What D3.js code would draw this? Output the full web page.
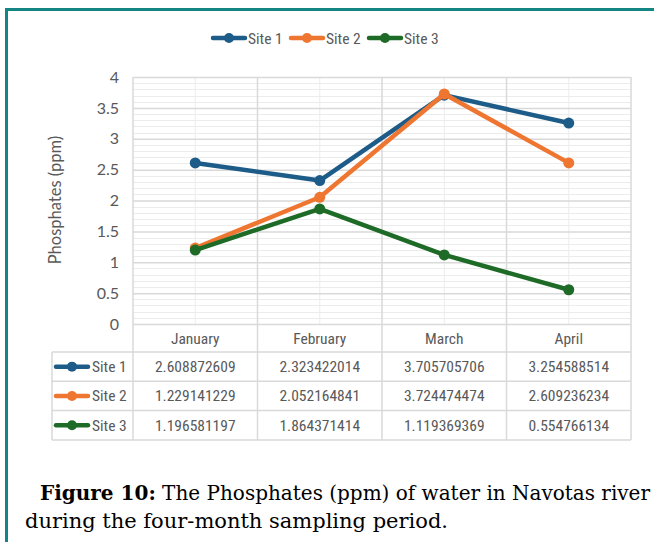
<!DOCTYPE html>
<html>
<head>
<meta charset="utf-8">
<script src="https://cdn.jsdelivr.net/npm/d3@7"></script>
<style>
  body { margin: 0; background: #fff; }
  svg { display: block; }
  .narrow { font-family: "Liberation Sans Narrow", "Roboto Condensed", Roboto, sans-serif; }
</style>
</head>
<body>
<div id="chart"></div>
<script>
// data
var months = ["January", "February", "March", "April"];
var siteNames = ["Site 1", "Site 2", "Site 3"];
var site1 = [2.608872609, 2.323422014, 3.705705706, 3.254588514];
var site2 = [1.229141229, 2.052164841, 3.724474474, 2.609236234];
var site3 = [1.196581197, 1.864371414, 1.119369369, 0.554766134];
var siteColors = ["#1d5c88", "#ee7631", "#1e6b27"];
var yTicks = [0, 0.5, 1, 1.5, 2, 2.5, 3, 3.5, 4];

var series = [site1, site2, site3].map(function (vals, i) {
    return { name: siteNames[i], color: siteColors[i], values: vals };
});

var W = 654, H = 542;
var plot = { left: 133, right: 631, top: 77, bottom: 324 };
var table = { left: 52, top: 352, rowH: 29.3 };

var svg = d3.select("#chart").append("svg")
    .attr("width", W)
    .attr("height", H);

svg.append("rect").attr("width", W).attr("height", H).attr("fill", "#fff");

// teal frame around the figure
svg.append("rect")
    .attr("x", 6.5).attr("y", 9.5)
    .attr("width", W + 20).attr("height", H + 20)
    .attr("fill", "none")
    .attr("stroke", "#138583")
    .attr("stroke-width", 3);

var x = d3.scaleBand().domain(months).range([plot.left, plot.right]);
var y = d3.scaleLinear().domain([0, 4]).range([plot.bottom, plot.top]);

// minor gridlines every 0.1
var minor = d3.range(0, 40).map(function (d) { return d / 10; })
    .filter(function (d) { return Math.round(d * 10) % 5 != 0; });
svg.append("g").selectAll("line").data(minor).enter().append("line")
    .attr("x1", plot.left).attr("x2", plot.right)
    .attr("y1", function (d) { return Math.round(y(d)) + 0.5; })
    .attr("y2", function (d) { return Math.round(y(d)) + 0.5; })
    .attr("stroke", "#ececec").attr("stroke-width", 1);

// vertical lines through the category centres
svg.append("g").selectAll("line").data(months).enter().append("line")
    .attr("x1", function (d) { return x(d) + x.bandwidth() / 2; })
    .attr("x2", function (d) { return x(d) + x.bandwidth() / 2; })
    .attr("y1", plot.top).attr("y2", plot.bottom)
    .attr("stroke", "#ececec").attr("stroke-width", 1);

// major gridlines + y labels
var yAxis = svg.append("g")
    .attr("transform", "translate(" + plot.left + ",0)")
    .call(d3.axisLeft(y).tickValues(yTicks).tickSize(-(plot.right - plot.left)).tickPadding(14)
        .tickFormat(function (d) { return d; }));
yAxis.select(".domain").remove();
yAxis.selectAll(".tick line").attr("stroke", "#d9d9d9").attr("stroke-width", 1.5);
yAxis.selectAll(".tick text")
    .attr("fill", "#595959")
    .style("font-family", "Lato, sans-serif")
    .style("font-size", "16px");

// category borders, running down through the table
var tableBottom = table.top + table.rowH * 3;
var edges = months.map(function (d) { return x(d); }).concat([plot.right]);
svg.append("g").selectAll("line").data(edges).enter().append("line")
    .attr("x1", function (d) { return d; }).attr("x2", function (d) { return d; })
    .attr("y1", plot.top).attr("y2", tableBottom)
    .attr("stroke", "#d9d9d9").attr("stroke-width", 1.5);

// table horizontal lines
var rowLines = d3.range(0, 4).map(function (i) { return table.top + i * table.rowH; });
svg.append("g").selectAll("line").data(rowLines).enter().append("line")
    .attr("x1", table.left).attr("x2", plot.right)
    .attr("y1", function (d) { return d; }).attr("y2", function (d) { return d; })
    .attr("stroke", "#d9d9d9").attr("stroke-width", 1.5);
svg.append("line")
    .attr("x1", table.left).attr("x2", table.left)
    .attr("y1", table.top).attr("y2", tableBottom)
    .attr("stroke", "#d9d9d9").attr("stroke-width", 1.5);

// month labels
svg.append("g").selectAll("text").data(months).enter().append("text")
    .attr("class", "narrow")
    .attr("x", function (d) { return x(d) + x.bandwidth() / 2; })
    .attr("y", 344)
    .attr("text-anchor", "middle")
    .attr("fill", "#595959")
    .style("font-size", "15.5px")
    .text(function (d) { return d; });

// y axis title
svg.append("text")
    .attr("transform", "translate(61,200) rotate(-90)")
    .attr("text-anchor", "middle")
    .attr("fill", "#595959")
    .style("font-family", "Lato, sans-serif")
    .style("font-size", "16.5px")
    .text("Phosphates (ppm)");

// lines and markers
var line = d3.line()
    .x(function (d, i) { return x(months[i]) + x.bandwidth() / 2; })
    .y(function (d) { return y(d); });

series.forEach(function (s) {
    svg.append("path")
        .datum(s.values)
        .attr("fill", "none")
        .attr("stroke", s.color)
        .attr("stroke-width", 4.5)
        .attr("stroke-linejoin", "round")
        .attr("d", line);
    svg.append("g").selectAll("circle").data(s.values).enter().append("circle")
        .attr("cx", function (d, i) { return x(months[i]) + x.bandwidth() / 2; })
        .attr("cy", function (d) { return y(d); })
        .attr("r", 5.5)
        .attr("fill", s.color);
});

// legend key glyph
function key(g, color) {
    g.append("line").attr("x1", 0).attr("x2", 32).attr("y1", 0).attr("y2", 0)
        .attr("stroke", color).attr("stroke-width", 4.5).attr("stroke-linecap", "round");
    g.append("circle").attr("cx", 16).attr("cy", 0).attr("r", 5).attr("fill", color);
}

// top legend
var legend = svg.append("g").attr("transform", "translate(213,38)");
series.forEach(function (s, i) {
    var g = legend.append("g").attr("transform", "translate(" + i * 78 + ",0)");
    key(g, s.color);
    g.append("text")
        .attr("class", "narrow")
        .attr("x", 35).attr("y", 5.5)
        .attr("fill", "#595959")
        .style("font-size", "15.5px")
        .text(s.name);
});

// data table rows
series.forEach(function (s, i) {
    var cy = table.top + table.rowH * (i + 0.5);
    var g = svg.append("g").attr("transform", "translate(56," + cy + ")");
    key(g, s.color);
    g.append("text")
        .attr("class", "narrow")
        .attr("x", 36).attr("y", 5.5)
        .attr("fill", "#595959")
        .style("font-size", "15.5px")
        .text(s.name);
    svg.append("g").selectAll("text").data(s.values).enter().append("text")
        .attr("class", "narrow")
        .attr("x", function (d, j) { return x(months[j]) + x.bandwidth() / 2; })
        .attr("y", cy + 5.5)
        .attr("text-anchor", "middle")
        .attr("fill", "#595959")
        .style("font-size", "15.5px")
        .text(function (d) { return d.toFixed(9); });
});

// caption
var cap = svg.append("g")
    .style("font-family", "'DejaVu Serif Condensed', 'DejaVu Serif', serif")
    .style("font-stretch", "condensed")
    .style("font-size", "21px")
    .attr("fill", "#000");
var l1 = cap.append("text").attr("x", 40).attr("y", 500)
    .attr("textLength", 610).attr("lengthAdjust", "spacingAndGlyphs");
l1.append("tspan").style("font-weight", "bold").text("Figure 10:");
l1.append("tspan").text(" The Phosphates (ppm) of water in Navotas river");
cap.append("text").attr("x", 25).attr("y", 528)
    .attr("textLength", 423).attr("lengthAdjust", "spacingAndGlyphs")
    .text("during the four-month sampling period.");
</script>
</body>
</html>
